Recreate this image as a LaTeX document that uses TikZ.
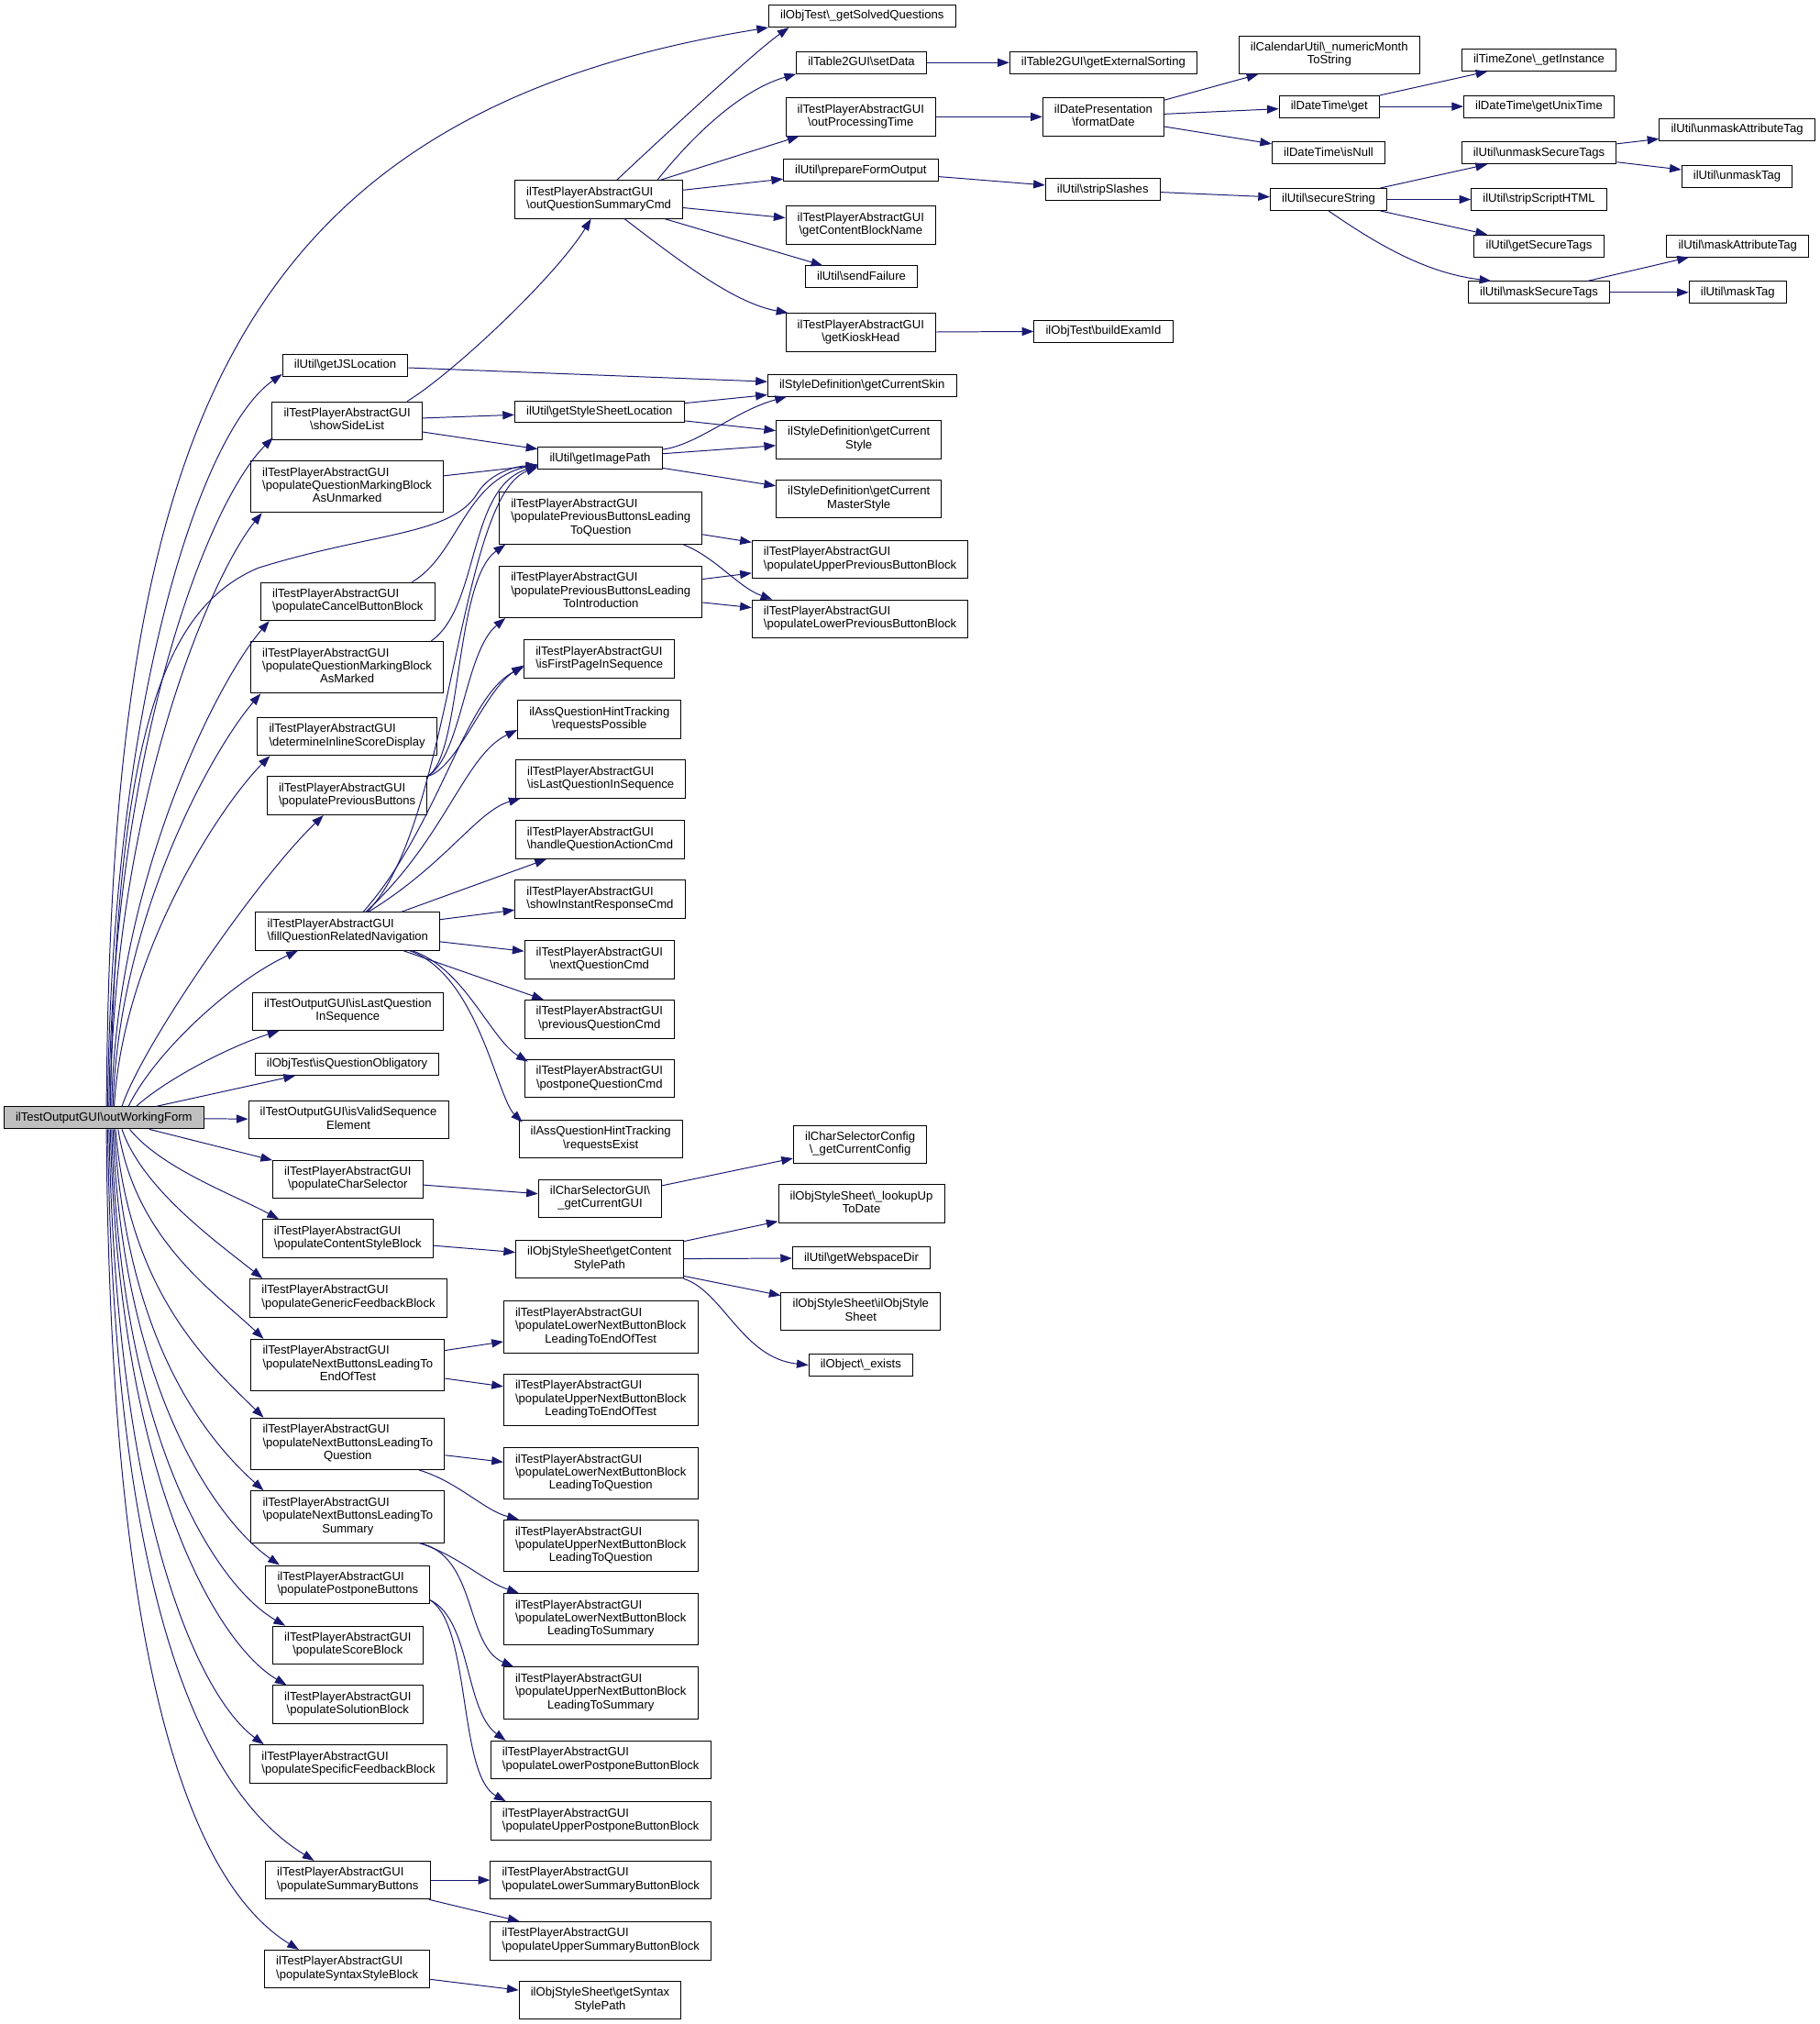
\documentclass[tikz,border=0pt]{standalone}
\usepackage{fontspec}
\setmainfont{Liberation Sans}
\usetikzlibrary{arrows.meta,calc}
\definecolor{edgeblue}{HTML}{191970}
\definecolor{rootgray}{HTML}{BFBFBF}
\newcommand\Bs{\textbackslash}
\newcommand\twol[2]{\begin{tabular}{@{}c@{}}\multicolumn{1}{@{}l@{}}{#1}\\#2\end{tabular}}
\begin{document}
\begin{tikzpicture}[x=1pt,y=-1pt,
  box/.style={draw=black, line width=0.7pt, fill=white, inner xsep=9pt, inner ysep=0pt, font=\fontsize{9.3}{10.2}\selectfont},
  hA/.style={box, minimum height=17pt, text height=6.8pt, text depth=2pt},
  hB/.style={box, minimum height=29.5pt},
  hC/.style={box, minimum height=40pt},
  rootbox/.style={hA, fill=rootgray},
  conn/.style={draw=edgeblue, line width=0.7pt, -{Triangle[length=9pt,width=6.5pt]}}]
\useasboundingbox (0,0) rectangle (1410,1568);
% root
\node[rootbox] (root) at (80.5,866) {ilTestOutputGUI\Bs outWorkingForm};
% column 2
\node[hA] (getjs) at (267.5,283) {ilUtil\Bs getJSLocation};
\node[hB] (ssl) at (269,326) {\twol{ilTestPlayerAbstractGUI}{\Bs showSideList}};
\node[hC] (qmbu) at (269,377) {\twol{ilTestPlayerAbstractGUI}{\Bs populateQuestionMarkingBlock\\AsUnmarked}};
\node[hB] (pcbb) at (269.5,466) {\twol{ilTestPlayerAbstractGUI}{\Bs populateCancelButtonBlock}};
\node[hC] (qmbm) at (269,517) {\twol{ilTestPlayerAbstractGUI}{\Bs populateQuestionMarkingBlock\\AsMarked}};
\node[hB] (diss) at (269,570.5) {\twol{ilTestPlayerAbstractGUI}{\Bs determineInlineScoreDisplay}};
\node[hB] (ppb) at (269,616.5) {\twol{ilTestPlayerAbstractGUI}{\Bs populatePreviousButtons}};
\node[hB] (fqrn) at (269.5,721.5) {\twol{ilTestPlayerAbstractGUI}{\Bs fillQuestionRelatedNavigation}};
\node[hB] (ilq) at (269.5,783.5) {\twol{ilTestOutputGUI\Bs isLastQuestion}{InSequence}};
\node[hA] (iqo) at (269,824.5) {ilObjTest\Bs isQuestionObligatory};
\node[hB] (ivse) at (270,867.5) {\twol{ilTestOutputGUI\Bs isValidSequence}{Element}};
\node[hB] (pcs) at (269.5,913.5) {\twol{ilTestPlayerAbstractGUI}{\Bs populateCharSelector}};
\node[hB] (pcsb) at (269.5,959.5) {\twol{ilTestPlayerAbstractGUI}{\Bs populateContentStyleBlock}};
\node[hB] (pgfb) at (270,1005.5) {\twol{ilTestPlayerAbstractGUI}{\Bs populateGenericFeedbackBlock}};
\node[hC] (nbe) at (269.5,1057.5) {\twol{ilTestPlayerAbstractGUI}{\Bs populateNextButtonsLeadingTo\\EndOfTest}};
\node[hC] (nbq) at (269.5,1118.5) {\twol{ilTestPlayerAbstractGUI}{\Bs populateNextButtonsLeadingTo\\Question}};
\node[hC] (nbs) at (269.5,1175) {\twol{ilTestPlayerAbstractGUI}{\Bs populateNextButtonsLeadingTo\\Summary}};
\node[hB] (ppost) at (269.5,1227.5) {\twol{ilTestPlayerAbstractGUI}{\Bs populatePostponeButtons}};
\node[hB] (psb) at (269.5,1274.5) {\twol{ilTestPlayerAbstractGUI}{\Bs populateScoreBlock}};
\node[hB] (psol) at (269.5,1320.5) {\twol{ilTestPlayerAbstractGUI}{\Bs populateSolutionBlock}};
\node[hB] (psfb) at (270,1366.5) {\twol{ilTestPlayerAbstractGUI}{\Bs populateSpecificFeedbackBlock}};
\node[hB] (psum) at (269.5,1456.5) {\twol{ilTestPlayerAbstractGUI}{\Bs populateSummaryButtons}};
\node[hB] (pssb) at (269,1525.5) {\twol{ilTestPlayerAbstractGUI}{\Bs populateSyntaxStyleBlock}};
% column 3
\node[hB] (oqsc) at (464,154.5) {\twol{ilTestPlayerAbstractGUI}{\Bs outQuestionSummaryCmd}};
\node[hA] (gssl) at (464.5,319) {ilUtil\Bs getStyleSheetLocation};
\node[hA] (gip) at (465,355) {ilUtil\Bs getImagePath};
\node[hC] (pbq) at (465.5,401.5) {\twol{ilTestPlayerAbstractGUI}{\Bs populatePreviousButtonsLeading\\ToQuestion}};
\node[hC] (pbi) at (465.5,458.5) {\twol{ilTestPlayerAbstractGUI}{\Bs populatePreviousButtonsLeading\\ToIntroduction}};
\node[hB] (ifp) at (464.5,510.5) {\twol{ilTestPlayerAbstractGUI}{\Bs isFirstPageInSequence}};
\node[hB] (rp) at (464.5,557.5) {\twol{ilAssQuestionHintTracking}{\Bs requestsPossible}};
\node[hB] (ilqs) at (465.5,603.5) {\twol{ilTestPlayerAbstractGUI}{\Bs isLastQuestionInSequence}};
\node[hB] (hqa) at (465,650.5) {\twol{ilTestPlayerAbstractGUI}{\Bs handleQuestionActionCmd}};
\node[hB] (sir) at (465,696.5) {\twol{ilTestPlayerAbstractGUI}{\Bs showInstantResponseCmd}};
\node[hB] (nq) at (464.5,743.5) {\twol{ilTestPlayerAbstractGUI}{\Bs nextQuestionCmd}};
\node[hB] (pq) at (464.5,789.5) {\twol{ilTestPlayerAbstractGUI}{\Bs previousQuestionCmd}};
\node[hB] (ppq) at (464.5,835.5) {\twol{ilTestPlayerAbstractGUI}{\Bs postponeQuestionCmd}};
\node[hB] (re) at (465.5,882.5) {\twol{ilAssQuestionHintTracking}{\Bs requestsExist}};
\node[hB] (gcg) at (465,928.5) {\twol{ilCharSelectorGUI\Bs}{\_getCurrentGUI}};
\node[hB] (gcsp) at (464.5,975.5) {\twol{ilObjStyleSheet\Bs getContent}{StylePath}};
\node[hC] (lne) at (465.5,1028) {\twol{ilTestPlayerAbstractGUI}{\Bs populateLowerNextButtonBlock\\LeadingToEndOfTest}};
\node[hC] (une) at (465.5,1084.5) {\twol{ilTestPlayerAbstractGUI}{\Bs populateUpperNextButtonBlock\\LeadingToEndOfTest}};
\node[hC] (lnq) at (465.5,1141.5) {\twol{ilTestPlayerAbstractGUI}{\Bs populateLowerNextButtonBlock\\LeadingToQuestion}};
\node[hC] (unq) at (465.5,1197.5) {\twol{ilTestPlayerAbstractGUI}{\Bs populateUpperNextButtonBlock\\LeadingToQuestion}};
\node[hC] (lns) at (465.5,1254.5) {\twol{ilTestPlayerAbstractGUI}{\Bs populateLowerNextButtonBlock\\LeadingToSummary}};
\node[hC] (uns) at (465.5,1311.5) {\twol{ilTestPlayerAbstractGUI}{\Bs populateUpperNextButtonBlock\\LeadingToSummary}};
\node[hB] (lpp) at (465.5,1363.5) {\twol{ilTestPlayerAbstractGUI}{\Bs populateLowerPostponeButtonBlock}};
\node[hB] (upp) at (465.5,1410.5) {\twol{ilTestPlayerAbstractGUI}{\Bs populateUpperPostponeButtonBlock}};
\node[hB] (lsb) at (465.5,1456.5) {\twol{ilTestPlayerAbstractGUI}{\Bs populateLowerSummaryButtonBlock}};
\node[hB] (usb) at (465.5,1503.5) {\twol{ilTestPlayerAbstractGUI}{\Bs populateUpperSummaryButtonBlock}};
\node[hB] (gssp) at (465,1549.5) {\twol{ilObjStyleSheet\Bs getSyntax}{StylePath}};
% column 4
\node[hA] (gsq) at (668,12.5) {ilObjTest\Bs\_getSolvedQuestions};
\node[hA] (sd) at (667.5,48.5) {ilTable2GUI\Bs setData};
\node[hB] (opt) at (667,90.5) {\twol{ilTestPlayerAbstractGUI}{\Bs outProcessingTime}};
\node[hA] (pfo) at (667,132) {ilUtil\Bs prepareFormOutput};
\node[hB] (gcbn) at (667,174.5) {\twol{ilTestPlayerAbstractGUI}{\Bs getContentBlockName}};
\node[hA] (sf) at (667.5,214.5) {ilUtil\Bs sendFailure};
\node[hB] (gkh) at (667,257.5) {\twol{ilTestPlayerAbstractGUI}{\Bs getKioskHead}};
\node[hA] (gcskin) at (668,298.5) {ilStyleDefinition\Bs getCurrentSkin};
\node[hB] (gcst) at (665.5,340.5) {\twol{ilStyleDefinition\Bs getCurrent}{Style}};
\node[hB] (gcms) at (665.5,386.5) {\twol{ilStyleDefinition\Bs getCurrent}{MasterStyle}};
\node[hB] (upb) at (666.5,433.5) {\twol{ilTestPlayerAbstractGUI}{\Bs populateUpperPreviousButtonBlock}};
\node[hB] (lpb) at (666.5,479.5) {\twol{ilTestPlayerAbstractGUI}{\Bs populateLowerPreviousButtonBlock}};
\node[hB] (gcc) at (666.5,886.5) {\twol{ilCharSelectorConfig}{\Bs\_getCurrentConfig}};
\node[hB] (lut) at (667.5,932.5) {\twol{ilObjStyleSheet\Bs\_lookupUp}{ToDate}};
\node[hA] (gwd) at (667.5,974.5) {ilUtil\Bs getWebspaceDir};
\node[hB] (oss) at (667,1016) {\twol{ilObjStyleSheet\Bs ilObjStyle}{Sheet}};
\node[hA] (oex) at (667,1057.5) {ilObject\Bs\_exists};
% column 5
\node[hA] (ges) at (855,48.5) {ilTable2GUI\Bs getExternalSorting};
\node[hB] (fd) at (855,90.5) {\twol{ilDatePresentation}{\Bs formatDate}};
\node[hA] (ss) at (854.5,147) {ilUtil\Bs stripSlashes};
\node[hA] (bei) at (855,256.5) {ilObjTest\Bs buildExamId};
% column 6
\node[hB] (nms) at (1030,42.5) {\twol{ilCalendarUtil\Bs\_numericMonth}{ToString}};
\node[hA] (dtg) at (1030,82.5) {ilDateTime\Bs get};
\node[hA] (dtn) at (1029.5,118.5) {ilDateTime\Bs isNull};
\node[hA] (sec) at (1029.5,154.5) {ilUtil\Bs secureString};
% column 7
\node[hA] (tzi) at (1192.5,46.5) {ilTimeZone\Bs\_getInstance};
\node[hA] (gut) at (1192.5,82.5) {ilDateTime\Bs getUnixTime};
\node[hA] (ust) at (1192.5,118.5) {ilUtil\Bs unmaskSecureTags};
\node[hA] (ssh) at (1192.5,154.5) {ilUtil\Bs stripScriptHTML};
\node[hA] (gst) at (1192.5,190.5) {ilUtil\Bs getSecureTags};
\node[hA] (mst) at (1192.5,226.5) {ilUtil\Bs maskSecureTags};
% column 8
\node[hA] (uat) at (1346,100.5) {ilUtil\Bs unmaskAttributeTag};
\node[hA] (ut) at (1346,136.5) {ilUtil\Bs unmaskTag};
\node[hA] (mat) at (1346.5,190.5) {ilUtil\Bs maskAttributeTag};
\node[hA] (mt) at (1346.5,226.5) {ilUtil\Bs maskTag};

% ---- root edges
\draw[conn] ($(root.north)+(2,0)$) .. controls (86,350) and (170,90) .. (gsq.south west);
\draw[conn] ($(root.north)+(3,0)$) .. controls (86,550) and (154,335) .. ($(getjs.south west)+(0,-2)$);
\draw[conn] ($(root.north)+(4,0)$) .. controls (87,580) and (161,389) .. ($(ssl.south west)+(1,-2)$);
\draw[conn] ($(root.north)+(5,0)$) .. controls (88,620) and (164,445) .. ($(qmbu.south west)+(9,0)$);
\draw[conn] ($(root.north)+(5,0)$) .. controls (90,560) and (130,470) .. (200,440) .. controls (290,412) and (350,415) .. (370,382) .. controls (380,366) and (400,361) .. ($(gip.south west)+(0,-3)$);
\draw[conn] ($(root.north)+(6,0)$) .. controls (90,680) and (170,525) .. ($(pcbb.south west)+(7,0)$);
\draw[conn] ($(root.north)+(7,0)$) .. controls (92,710) and (165,580) .. ($(qmbm.south west)+(8,0)$);
\draw[conn] ($(root.north)+(8,0)$) .. controls (95,740) and (170,625) .. ($(diss.south west)+(10,0)$);
\draw[conn] ($(root.north)+(14,0)$) .. controls (110,810) and (200,680) .. ($(ppb.south west)+(44,0)$);
\draw[conn] ($(root.north)+(19,0)$) .. controls (120,815) and (180,760) .. ($(fqrn.south west)+(33,0)$);
\draw[conn] ($(root.north)+(25,0)$) .. controls (130,835) and (180,810) .. ($(ilq.south west)+(21,0)$);
\draw[conn] (root) -- (iqo);
\draw[conn] (root) -- (ivse);
\draw[conn] (root) -- (pcs);
\draw[conn] ($(root.south)+(20,0)$) .. controls (125,905) and (180,925) .. ($(pcsb.north west)+(13,0)$);
\draw[conn] ($(root.south)+(14,0)$) .. controls (110,920) and (165,960) .. ($(pgfb.north west)+(10,0)$);
\draw[conn] ($(root.south)+(11,0)$) .. controls (105,960) and (165,1000) .. ($(nbe.north west)+(10,0)$);
\draw[conn] ($(root.south)+(9,0)$) .. controls (100,1000) and (160,1055) .. ($(nbq.north west)+(10,0)$);
\draw[conn] ($(root.south)+(8,0)$) .. controls (98,1040) and (160,1115) .. ($(nbs.north west)+(10,0)$);
\draw[conn] ($(root.south)+(7,0)$) .. controls (95,1080) and (170,1180) .. ($(ppost.north west)+(11,0)$);
\draw[conn] ($(root.south)+(6,0)$) .. controls (93,1120) and (170,1230) .. ($(psb.north west)+(10,0)$);
\draw[conn] ($(root.south)+(5,0)$) .. controls (92,1150) and (170,1275) .. ($(psol.north west)+(11,0)$);
\draw[conn] ($(root.south)+(4,0)$) .. controls (90,1180) and (155,1315) .. ($(psfb.north west)+(11,0)$);
\draw[conn] ($(root.south)+(3,0)$) .. controls (88,1250) and (160,1390) .. ($(psum.north west)+(38,0)$);
\draw[conn] ($(root.south)+(2,0)$) .. controls (85,1300) and (150,1460) .. ($(pssb.north west)+(27,0)$);

% ---- column 2 -> 3
\draw[conn] ($(ssl.north east)+(-12,0)$) .. controls (350,290) and (430,215) .. ($(oqsc.south)+(-6,0)$);
\draw[conn] (ssl) -- (gssl);
\draw[conn] (ssl) -- (gip);
\draw[conn] (getjs) -- (gcskin);
\draw[conn] (qmbu) -- (gip);
\draw[conn] ($(pcbb.north east)+(-18,0)$) .. controls (355,430) and (360,372) .. ($(gip.south west)+(0,-4)$);
\draw[conn] ($(qmbm.north east)+(-10,0)$) .. controls (372,470) and (362,378) .. ($(gip.south west)+(0,-3)$);
\draw[conn] ($(fqrn.north)+(15,0)$) .. controls (350,640) and (355,385) .. ($(gip.south west)+(0,-2)$);
\draw[conn] (ppb.north east) .. controls (358,585) and (352,450) .. ($(pbq.south west)+(5,0)$);
\draw[conn] (ppb.north east) .. controls (358,585) and (360,505) .. ($(pbi.south west)+(5,0)$);
\draw[conn] (ppb.north east) .. controls (355,595) and (375,535) .. ($(ifp.west)+(0,5)$);
\draw[conn] ($(fqrn.north)+(12,0)$) .. controls (340,640) and (360,540) .. ($(ifp.west)+(0,6)$);
\draw[conn] ($(fqrn.north)+(14,0)$) .. controls (345,650) and (360,585) .. ($(rp.west)+(0,8)$);
\draw[conn] ($(fqrn.north)+(16,0)$) .. controls (345,670) and (370,628) .. ($(ilqs.south west)+(4,0)$);
\draw[conn] (fqrn) -- (hqa);
\draw[conn] (fqrn) -- (sir);
\draw[conn] (fqrn) -- (nq);
\draw[conn] (fqrn) -- (pq);
\draw[conn] ($(fqrn.south)+(50,0)$) .. controls (360,750) and (380,805) .. ($(ppq.north west)+(3,2)$);
\draw[conn] ($(fqrn.south)+(48,0)$) .. controls (370,755) and (385,850) .. ($(re.north west)+(3,2)$);
\draw[conn] (pcs) -- (gcg);
\draw[conn] (gcg) -- (gcc);
\draw[conn] (pcsb) -- (gcsp);
\draw[conn] (gcsp) -- (lut);
\draw[conn] (gcsp) -- (gwd);
\draw[conn] (gcsp) -- (oss);
\draw[conn] (gcsp.south east) .. controls (560,1000) and (575,1052) .. (oex.west);
\draw[conn] (nbe) -- (lne);
\draw[conn] (nbe) -- (une);
\draw[conn] (nbq) -- (lnq);
\draw[conn] ($(nbq.south east)+(-20,0)$) .. controls (355,1148) and (375,1170) .. ($(unq.north west)+(12,0)$);
\draw[conn] ($(nbs.south east)+(-20,0)$) .. controls (355,1205) and (375,1225) .. ($(lns.north west)+(12,0)$);
\draw[conn] ($(nbs.south east)+(-20,0)$) .. controls (370,1205) and (360,1275) .. ($(uns.north west)+(8,0)$);
\draw[conn] ($(ppost.south east)+(0,-3)$) .. controls (365,1255) and (360,1325) .. ($(lpp.north west)+(12,0)$);
\draw[conn] ($(ppost.south east)+(0,-3)$) .. controls (365,1260) and (355,1375) .. ($(upp.north west)+(12,0)$);
\draw[conn] (psum) -- (lsb);
\draw[conn] (psum) -- (usb);
\draw[conn] (pssb) -- (gssp);

% ---- column 3 -> 4
\draw[conn] (pbq) -- (upb);
\draw[conn] ($(pbq.south east)+(-15,0)$) .. controls (555,432) and (572,455) .. ($(lpb.north west)+(16,0)$);
\draw[conn] (pbi) -- (upb);
\draw[conn] (pbi) -- (lpb);
\draw[conn] (gssl) -- (gcskin);
\draw[conn] (gssl) -- (gcst);
\draw[conn] ($(gip.north east)+(0,2)$) .. controls (540,345) and (570,318) .. ($(gcskin.south west)+(15,0)$);
\draw[conn] (gip) -- (gcst);
\draw[conn] (gip) -- (gcms);
\draw[conn] ($(oqsc.north)+(14,0)$) .. controls (520,100) and (585,40) .. ($(gsq.south west)+(16,0)$);
\draw[conn] ($(oqsc.north east)+(-20,0)$) .. controls (545,95) and (580,68) .. (sd.south west);
\draw[conn] (oqsc) -- (opt);
\draw[conn] (oqsc) -- (pfo);
\draw[conn] (oqsc) -- (gcbn);
\draw[conn] (oqsc) -- (sf);
\draw[conn] ($(oqsc.south)+(20,0)$) .. controls (530,205) and (570,235) .. ($(gkh.north west)+(2,0)$);

% ---- further right
\draw[conn] (sd) -- (ges);
\draw[conn] (opt) -- (fd);
\draw[conn] (pfo) -- (ss);
\draw[conn] (gkh) -- (bei);
\draw[conn] (fd) -- (nms);
\draw[conn] (fd) -- (dtg);
\draw[conn] (fd) -- (dtn);
\draw[conn] (dtg) -- (tzi);
\draw[conn] (dtg) -- (gut);
\draw[conn] (ss) -- (sec);
\draw[conn] (sec) -- (ust);
\draw[conn] (sec) -- (ssh);
\draw[conn] (sec) -- (gst);
\draw[conn] (sec.south) .. controls (1075,195) and (1110,212) .. ($(mst.north west)+(18,0)$);
\draw[conn] (ust) -- (uat);
\draw[conn] (ust) -- (ut);
\draw[conn] (mst) -- (mat);
\draw[conn] (mst) -- (mt);
\end{tikzpicture}
\end{document}
